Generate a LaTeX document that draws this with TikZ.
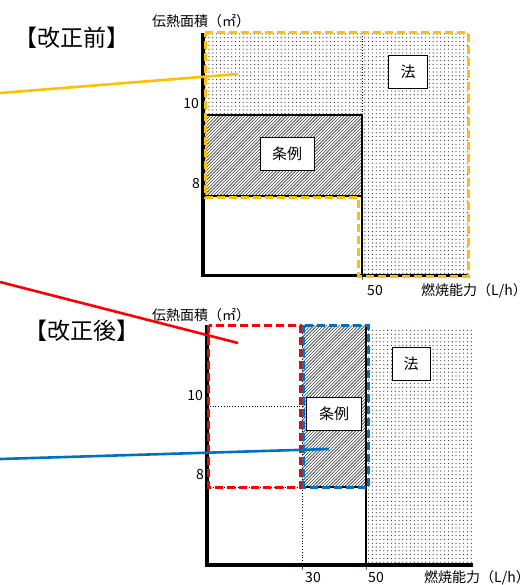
\documentclass[tikz,border=0pt]{standalone}
\usepackage{fontspec}
\setmainfont{Noto Sans CJK JP}
\usetikzlibrary{patterns}
\pgfdeclarepatternformonly{mydots}{\pgfpoint{-1pt}{-1pt}}{\pgfpoint{1pt}{1pt}}{\pgfpoint{3.8pt}{3.8pt}}{\pgfpathcircle{\pgfpointorigin}{0.6pt}\pgfusepath{fill}}
\pgfdeclarepatternformonly{myhatch}{\pgfpoint{-1pt}{-1pt}}{\pgfpoint{4pt}{4pt}}{\pgfpoint{3.2pt}{3.2pt}}{\pgfsetlinewidth{0.6pt}\pgfpathmoveto{\pgfpoint{-0.2pt}{-0.2pt}}\pgfpathlineto{\pgfpoint{3.4pt}{3.4pt}}\pgfusepath{stroke}}
\definecolor{myyellow}{HTML}{FFC000}
\definecolor{myred}{HTML}{FF0000}
\definecolor{myblue}{HTML}{0070C0}
\definecolor{tickgreen}{HTML}{2E8B2E}
\begin{document}
\begin{tikzpicture}[x=1pt,y=-1pt,
  axis/.style={line width=3.2pt,line cap=butt},
  dotarea/.style={pattern=mydots,pattern color=black!85},
  hatcharea/.style={pattern=myhatch,pattern color=black!75},
  thinsolid/.style={line width=1.8pt},
  thindot/.style={line width=0.8pt,dotted},
  dashbox/.style={line width=3pt,dash pattern=on 8pt off 4pt},
  leader/.style={line width=2.6pt},
  lbox/.style={draw=black,fill=white,line width=1pt,minimum height=33pt,font=\fontsize{15}{15}\selectfont,inner sep=0pt},
  ax/.style={font=\fontsize{14}{14}\selectfont,inner sep=0pt},
  ttl/.style={font=\fontsize{23}{24}\selectfont,inner sep=0pt},
  tick/.style={tickgreen,line width=1pt}]
\useasboundingbox (0,0) rectangle (531,585);
% ===== top chart =====
\fill[dotarea] (203,33) -- (468,33) -- (468,275) -- (362,275) -- (362,115) -- (203,115) -- cycle;
\fill[hatcharea] (203,115) rectangle (362,196);
\draw[thinsolid] (203,115) rectangle (362,196);
\draw[thindot] (362,33) -- (362,115);
\draw[thinsolid] (362,115) -- (362,275);
\draw[axis] (203,33) -- (203,275.5) -- (468,275.5);
\draw[tick] (362.5,277) -- (362.5,280);
\draw[myyellow,dashbox] (205,33) -- (468,33) -- (468,276) -- (358.5,276) -- (358.5,197.5) -- (205,197.5) -- cycle;
\node[lbox,minimum width=54pt] (jorei1) at (287,154) {条例};
\node[lbox,minimum width=39pt] (hou1) at (408,72) {法};
\node[ax] (ya1) at (201,21) {伝熱面積（㎡）};
\node[ax,anchor=east] (y10a) at (199,104) {10};
\node[ax,anchor=east] (y8a) at (200,184) {8};
\node[ax] (x50a) at (375,291) {50};
\node[ax] (xa1) at (474,291) {燃焼能力（L/h）};
\node[ttl] (before) at (72,38) {【改正前】};
\coordinate (yl0) at (0,93);
\coordinate (yl1) at (238,74);
\draw[myyellow,leader] (yl0) -- (yl1);
% ===== bottom chart =====
\fill[dotarea] (366,327) rectangle (473,565);
\fill[hatcharea] (302,325) rectangle (366,487);
\draw[thinsolid] (302,487) -- (366,487);
\draw[thinsolid] (366,325) -- (366,565);
\draw[thindot] (302,325) -- (302,565);
\draw[thindot] (207,406) -- (302,406);
\draw[thindot] (207,487) -- (302,487);
\draw[axis] (207,325) -- (207,565) -- (473,565);
\draw[tick] (302.5,566.5) -- (302.5,569.5);
\draw[tick] (366.5,566.5) -- (366.5,569.5);
\draw[myred,dashbox] (208.5,325) rectangle (300,487);
\draw[myblue,dashbox] (303.5,325) rectangle (368,487);
\node[lbox,minimum width=55pt] (jorei2) at (334,414) {条例};
\node[lbox,minimum width=38pt] (hou2) at (411,364) {法};
\node[ax] (ya2) at (201,315) {伝熱面積（㎡）};
\node[ax,anchor=east] (y10b) at (203,396) {10};
\node[ax,anchor=east] (y8b) at (204,475) {8};
\node[ax] (x30b) at (313,578) {30};
\node[ax] (x50b) at (376,578) {50};
\node[ax] (xa2) at (477,578) {燃焼能力（L/h）};
\node[ttl] (after) at (82,331) {【改正後】};
\coordinate (rl0) at (0,282);
\coordinate (rl1) at (238,343);
\draw[myred,leader] (rl0) -- (rl1);
\coordinate (bl0) at (0,459);
\coordinate (bl1) at (329,449);
\draw[myblue,leader] (bl0) -- (bl1);
\end{tikzpicture}
\end{document}
